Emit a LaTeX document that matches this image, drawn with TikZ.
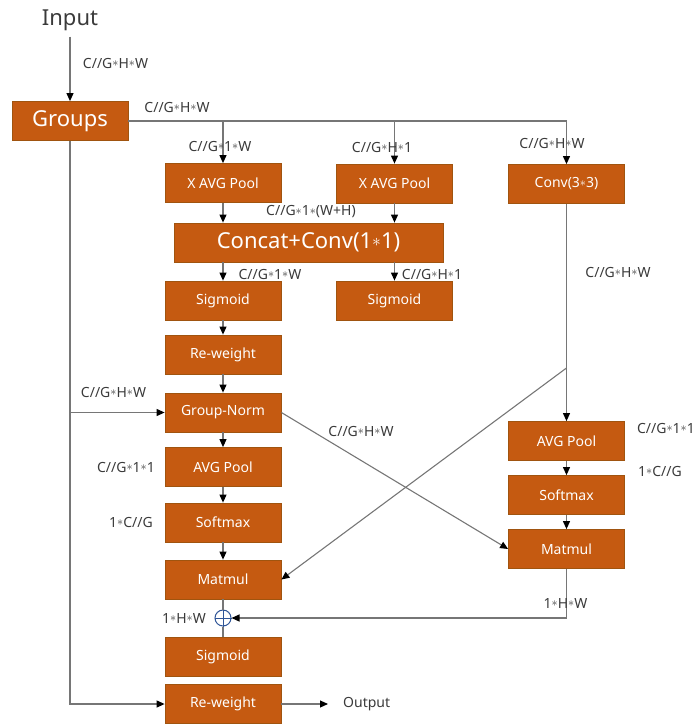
\documentclass[tikz,border=0pt]{standalone}
\usepackage{fontspec}
\setmainfont{Noto Sans}
\usetikzlibrary{arrows.meta}
\definecolor{boxfill}{HTML}{C55A11}
\definecolor{boxline}{HTML}{A0540F}
\definecolor{wire}{HTML}{767676}
\definecolor{labeltext}{HTML}{3A3A3A}
\definecolor{plusblue}{HTML}{2F5597}
% small centred star used in the tensor shapes
\newcommand\ax{\raisebox{0.1em}{\scalebox{0.85}{$\ast$}}}
\begin{document}
\begin{tikzpicture}[x=1pt,y=-1pt,
  block/.style={draw=boxline,fill=boxfill,line width=0.8pt,text=white,inner sep=0pt,
    minimum width=116pt,minimum height=39pt,font=\fontsize{14}{16}\selectfont},
  bigblock/.style={block,font=\fontsize{22}{26}\selectfont},
  dim/.style={text=labeltext,inner sep=0pt,font=\fontsize{14}{16}\selectfont},
  wireline/.style={draw=wire,line width=1.1pt},
  flow/.style={wireline,-{Triangle[length=8pt,width=7pt,color=black]}},
]
\useasboundingbox (0,0) rectangle (695,724);

% ---- blocks ----
\node[dim,font=\fontsize{22}{26}\selectfont] (input) at (70,20) {Input};
\node[bigblock] (groups) at (70,121) {Groups};
\node[block] (xpool1) at (223,183) {X AVG Pool};
\node[block] (xpool2) at (394.5,183.5) {X AVG Pool};
\node[block] (conv) at (566.5,184) {Conv(3\ax3)};
\node[bigblock,minimum width=269pt] (concat) at (308.5,242.5) {Concat+Conv(1\ax1)};
\node[block] (sig1) at (223,300.5) {Sigmoid};
\node[block] (sig2) at (394.5,300.5) {Sigmoid};
\node[block] (rw1) at (223,354.5) {Re-weight};
\node[block] (gn) at (223,412.5) {Group-Norm};
\node[block] (pool1) at (223,467) {AVG Pool};
\node[block] (soft1) at (223,522.5) {Softmax};
\node[block] (mat1) at (223,579.5) {Matmul};
\node[circle,draw=plusblue,fill=white,line width=1pt,minimum size=16pt,inner sep=0pt] (plus) at (223,618) {};
\draw[plusblue,line width=1pt] (plus.north) -- (plus.south) (plus.west) -- (plus.east);
\node[block] (sig3) at (223,656.5) {Sigmoid};
\node[block] (rw2) at (223,704) {Re-weight};
\node[block] (pool2) at (566.5,441) {AVG Pool};
\node[block] (soft2) at (566.5,495) {Softmax};
\node[block] (mat2) at (566.5,549) {Matmul};
\node[dim,anchor=west] (output) at (343,704) {Output};

% ---- connectors ----
\draw[flow,shorten <=6pt] (input.south) -- (groups.north);
\draw[flow] (groups.east) -| (conv.north);
\draw[flow] (xpool1.north |- groups.east) -- (xpool1.north);
\draw[flow] (xpool2.north |- groups.east) -- (xpool2.north);
\draw[flow] (xpool1.south) -- (xpool1.south |- concat.north);
\draw[flow] (xpool2.south) -- (xpool2.south |- concat.north);
\draw[flow] (sig1.north |- concat.south) -- (sig1.north);
\draw[flow] (sig2.north |- concat.south) -- (sig2.north);
\draw[flow] (sig1.south) -- (rw1.north);
\draw[flow] (rw1.south) -- (gn.north);
\draw[flow] (gn.south) -- (pool1.north);
\draw[flow] (pool1.south) -- (soft1.north);
\draw[flow] (soft1.south) -- (mat1.north);
\draw[wireline] (mat1.south) -- (plus.north);
\draw[wireline] (plus.south) -- (sig3.north);
\draw[flow] (groups.south) |- (rw2.west);
\draw[flow] (groups.south |- gn.west) -- (gn.west);
\draw[flow,shorten >=15pt] (rw2.east) -- (output.west);
\draw[flow] (conv.south) -- (pool2.north);
\coordinate (br) at (566.5,368);
\draw[flow] (br) -- (mat1.east);
\draw[flow] (gn.east) -- (mat2.west);
\draw[flow] (pool2.south) -- (soft2.north);
\draw[flow] (soft2.south) -- (mat2.north);
\draw[flow] (mat2.south) |- (plus.east);

% ---- tensor shapes ----
\node[dim] (d1) at (115.5,63) {C//G\ax H\ax W};
\node[dim] (d2) at (177,107) {C//G\ax H\ax W};
\node[dim] (d3) at (220,146) {C//G\ax 1\ax W};
\node[dim] (d4) at (382,147) {C//G\ax H\ax 1};
\node[dim] (d5) at (552,143) {C//G\ax H\ax W};
\node[dim] (d6) at (311,212) {C//G\ax 1\ax(W+H)};
\node[dim] (d7) at (270,274) {C//G\ax 1\ax W};
\node[dim] (d8) at (432,274) {C//G\ax H\ax 1};
\node[dim] (d9) at (618,272) {C//G\ax H\ax W};
\node[dim] (d10) at (113.5,392) {C//G\ax H\ax W};
\node[dim] (d11) at (361,431) {C//G\ax H\ax W};
\node[dim] (d12) at (126,467) {C//G\ax 1\ax 1};
\node[dim] (d13) at (666,428) {C//G\ax 1\ax 1};
\node[dim] (d14) at (660,471) {1\ax C//G};
\node[dim] (d15) at (131,522) {1\ax C//G};
\node[dim] (d16) at (184,618) {1\ax H\ax W};
\node[dim] (d17) at (565.5,603) {1\ax H\ax W};
\end{tikzpicture}
\end{document}
